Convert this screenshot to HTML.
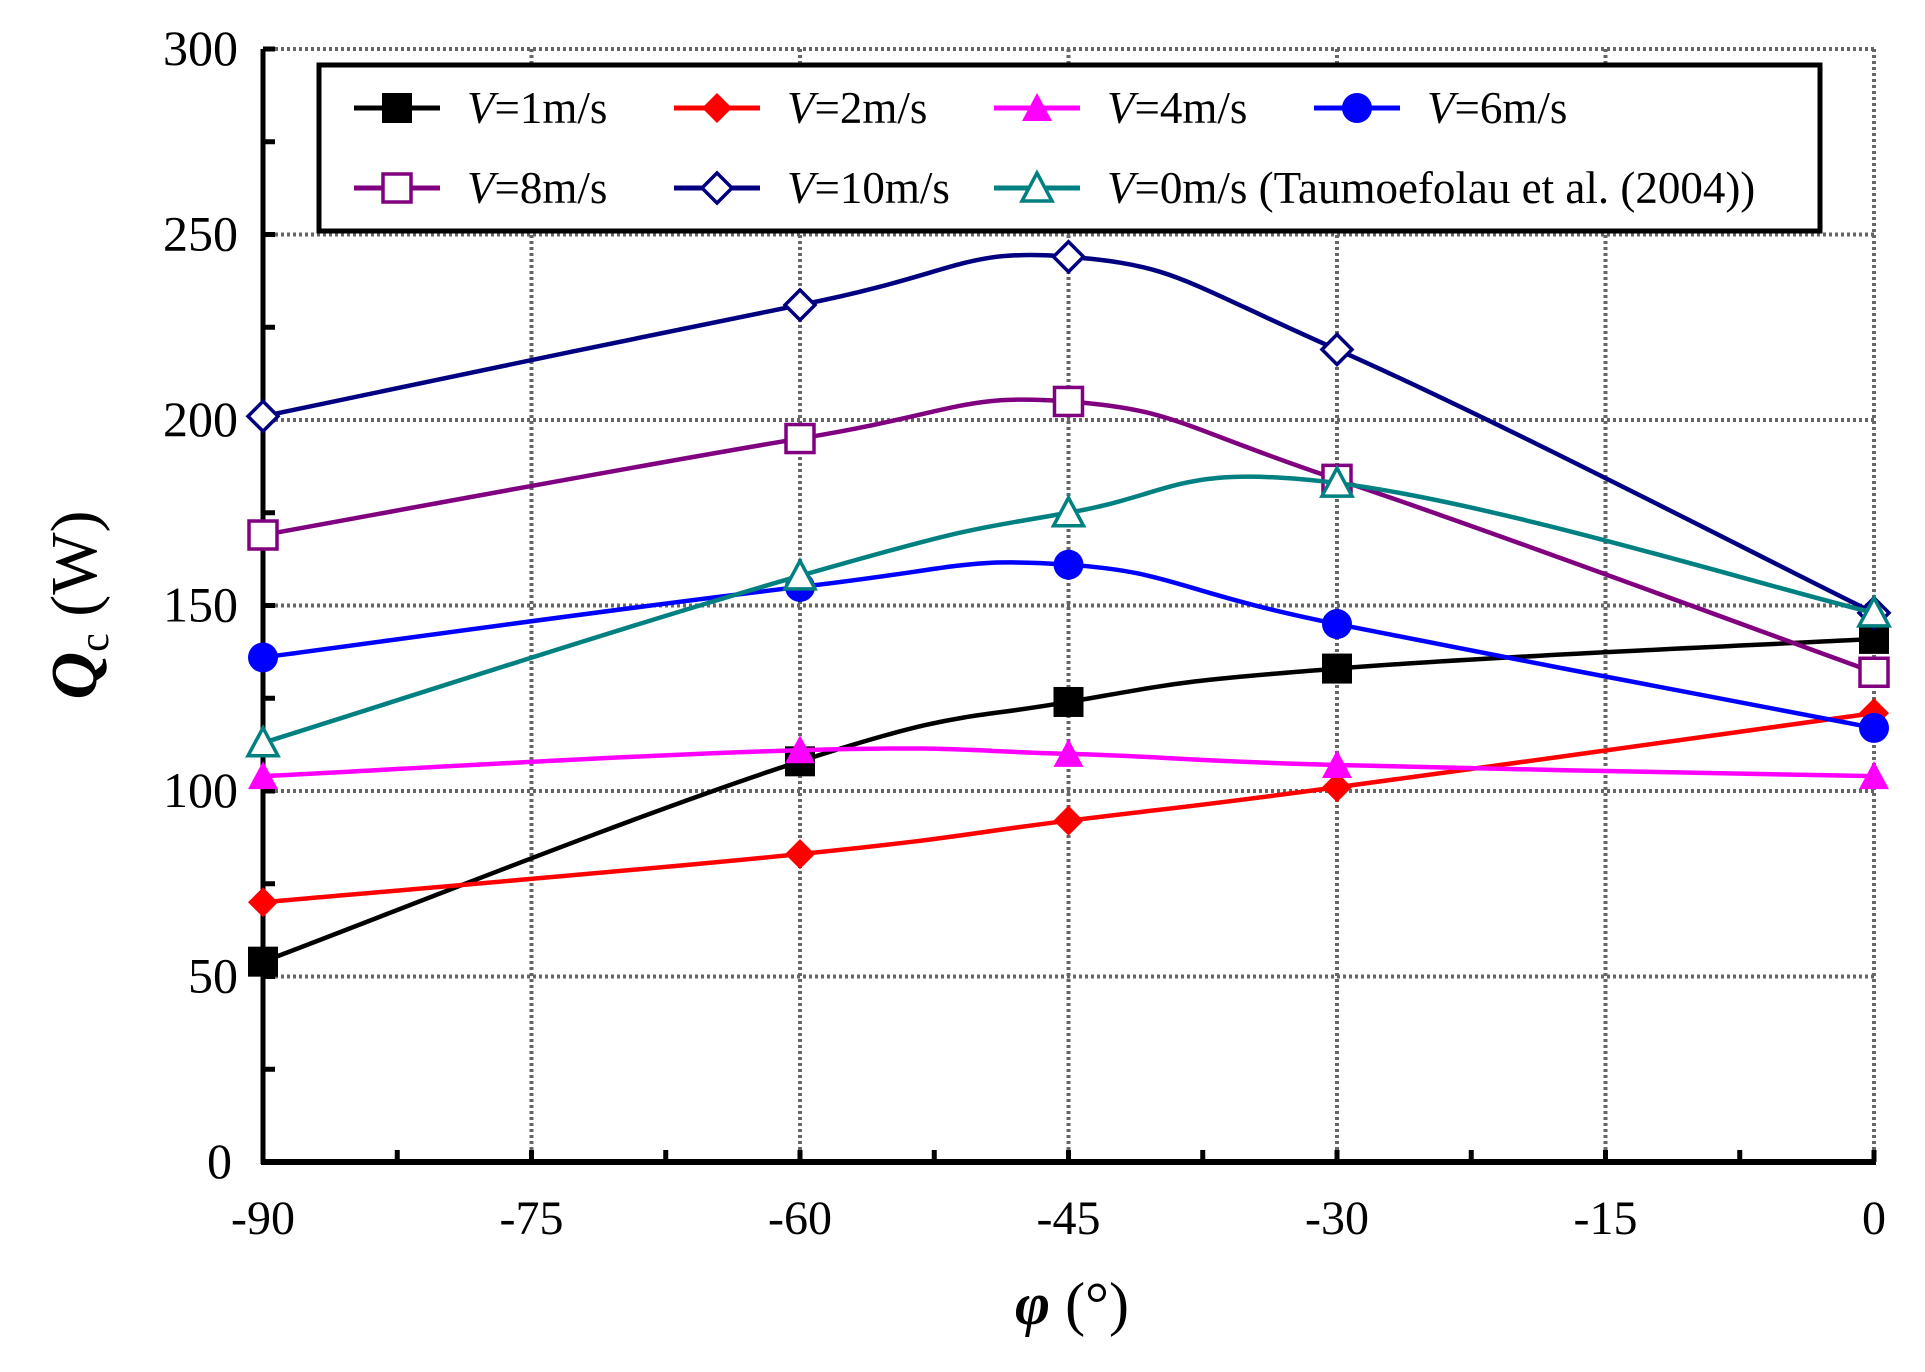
<!DOCTYPE html>
<html><head><meta charset="utf-8"><style>
html,body{margin:0;padding:0;background:#fff;width:1925px;height:1372px;overflow:hidden}
svg{display:block}
text{font-family:"Liberation Serif",serif;fill:#000}
</style></head><body>
<svg id="s" width="1925" height="1372" xmlns="http://www.w3.org/2000/svg"></svg>
<script>
const s=document.getElementById('s');
const X0=263,X1=1874,Y0=1162,Y1=49;
const fx=v=>X0+(v+90)/90*(X1-X0), fy=v=>Y0-(v/300)*(Y0-Y1);
let h='';
for(let v=-75;v<=0;v+=15)h+=`<line x1="${fx(v)}" y1="${Y1}" x2="${fx(v)}" y2="${Y0}" stroke="#666" stroke-width="4" stroke-dasharray="3,3"/>`;
for(let v=50;v<=300;v+=50)h+=`<line x1="${X0}" y1="${fy(v)}" x2="${X1}" y2="${fy(v)}" stroke="#666" stroke-width="4" stroke-dasharray="3,3"/>`;
h+=`<line x1="${X0}" y1="${Y1}" x2="${X0}" y2="${Y0+2}" stroke="#000" stroke-width="5"/>`;
h+=`<line x1="${X0-2}" y1="${Y0}" x2="${X1+2}" y2="${Y0}" stroke="#000" stroke-width="6"/>`;
for(let v=-90;v<=0;v+=7.5)h+=`<line x1="${fx(v)}" y1="${Y0}" x2="${fx(v)}" y2="${Y0-12}" stroke="#000" stroke-width="5"/>`;
for(let v=0;v<=300;v+=25)h+=`<line x1="${X0}" y1="${fy(v)}" x2="${X0+12}" y2="${fy(v)}" stroke="#000" stroke-width="5"/>`;
for(let v=-90;v<=0;v+=15)h+=`<text x="${fx(v)}" y="1234" font-size="48" text-anchor="middle">${v}</text>`;
for(let v=0;v<=300;v+=50)h+=`<text x="${v==0?232:238}" y="${fy(v)+16}" font-size="50" text-anchor="end">${v}</text>`;
h+=`<text transform="translate(96,605) rotate(-90)" font-size="66" text-anchor="middle"><tspan font-style="italic" font-weight="bold">Q</tspan><tspan font-size="42" dy="12">c</tspan><tspan dy="-12"> (W)</tspan></text>`;
h+=`<text x="1072" y="1324" font-size="60" text-anchor="middle"><tspan font-style="italic" font-weight="bold">φ</tspan> (°)</text>`;
function mk(type,x,y,c){const r=15;
 if(type=='sq')return `<rect x="${x-r}" y="${y-r}" width="${2*r}" height="${2*r}" fill="${c}"/>`;
 if(type=='osq')return `<rect x="${x-r+1}" y="${y-r+1}" width="${2*r-2}" height="${2*r-2}" fill="#fff" stroke="${c}" stroke-width="3.5"/>`;
 if(type=='dm')return `<polygon points="${x},${y-r} ${x+r},${y} ${x},${y+r} ${x-r},${y}" fill="${c}"/>`;
 if(type=='odm')return `<polygon points="${x},${y-r} ${x+r},${y} ${x},${y+r} ${x-r},${y}" fill="#fff" stroke="${c}" stroke-width="3.5"/>`;
 if(type=='tr')return `<polygon points="${x},${y-r} ${x+r},${y+r-2} ${x-r},${y+r-2}" fill="${c}"/>`;
 if(type=='otr')return `<polygon points="${x},${y-r} ${x+r},${y+r-2} ${x-r},${y+r-2}" fill="#fff" stroke="${c}" stroke-width="3.5"/>`;
 if(type=='ci')return `<circle cx="${x}" cy="${y}" r="${r}" fill="${c}"/>`;}
const xs=[-90,-60,-45,-30,0];
const series=[
 ['sq','#000',[54,108,124,133,141],'1m/s'],
 ['dm','#ff0000',[70,83,92,101,121],'2m/s'],
 ['tr','#ff00ff',[104,111,110,107,104],'4m/s'],
 ['ci','#0000ff',[136,155,161,145,117],'6m/s'],
 ['osq','#800080',[169,195,205,184,132],'8m/s'],
 ['odm','#000080',[201,231,244,219,148],'10m/s'],
 ['otr','#008080',[113,158,175,183,148],'0m/s (Taumoefolau et al. (2004))']];
function path(p){let d=`M${p[0][0]},${p[0][1]}`;for(let i=0;i<p.length-1;i++){const a=p[Math.max(0,i-1)],b=p[i],c=p[i+1],e=p[Math.min(p.length-1,i+2)];const t=0.2;d+=` C${b[0]+(c[0]-a[0])*t},${b[1]+(c[1]-a[1])*t} ${c[0]-(e[0]-b[0])*t},${c[1]-(e[1]-b[1])*t} ${c[0]},${c[1]}`;}return d;}
series.forEach(([t,c,ys])=>{const p=xs.map((x,i)=>[fx(x),fy(ys[i])]);h+=`<path d="${path(p)}" fill="none" stroke="${c}" stroke-width="4.5"/>`;p.forEach(q=>h+=mk(t,q[0],q[1],c));});
h+=`<rect x="319" y="65" width="1501" height="166" fill="#fff" stroke="#000" stroke-width="5"/>`;
const pos=[[397,108],[717,108],[1037,108],[1357,108],[397,188],[717,188],[1037,188]];
series.forEach(([t,c,ys,l],i)=>{const [x,y]=pos[i];h+=`<line x1="${x-43}" y1="${y}" x2="${x+43}" y2="${y}" stroke="${c}" stroke-width="5"/>`+mk(t,x,y,c)+`<text x="${x+70}" y="${y+15}" font-size="45"><tspan font-style="italic">V</tspan>=${l}</text>`;});
s.innerHTML=h;
</script>
</body></html>
